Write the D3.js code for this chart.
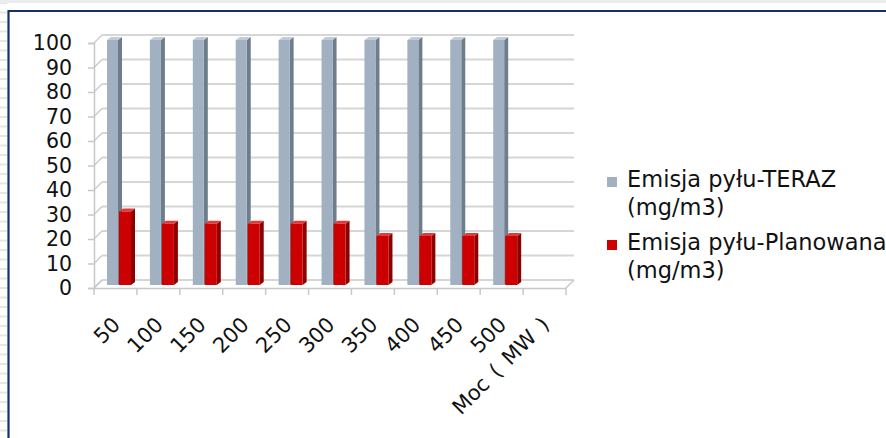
<!DOCTYPE html>
<html>
<head>
<meta charset="utf-8">
<script src="https://d3js.org/d3.v7.min.js"></script>
<style>
  body { margin: 0; background: #fff; }
  text { font-family: "DejaVu Sans", Verdana, sans-serif; fill: #111; }
</style>
</head>
<body>
<div id="chart"></div>
<script>
// chart data
const categories = ["50", "100", "150", "200", "250", "300", "350", "400", "450", "500", "Moc ( MW )"]
const teraz = [100, 100, 100, 100, 100, 100, 100, 100, 100, 100, null]
const planowana = [30, 25, 25, 25, 25, 25, 20, 20, 20, 20, null]
const yTicks = [0, 10, 20, 30, 40, 50, 60, 70, 80, 90, 100]
const seriesNames = [["Emisja pyłu-TERAZ", "(mg/m3)"], ["Emisja pyłu-Planowana", "(mg/m3)"]]

const width = 886
const height = 438
const depth = 8   // back wall offset

const svg = d3.select("#chart").append("svg")
    .attr("width", width)
    .attr("height", height)

// page decoration: striped margin + navy frame
const stripes = svg.append("g")
for (let y = 2; y < height; y += 9.5) {
    stripes.append("rect").attr("x", 0).attr("y", y).attr("width", 7).attr("height", 2).attr("fill", "#e6e6e6")
}
svg.append("rect").attr("x", 0).attr("y", 0).attr("width", width).attr("height", 3).attr("fill", "#ececec")
svg.append("path")
    .attr("d", "M8.5," + height + " V11 H" + width)
    .attr("fill", "none")
    .attr("stroke", "#13306b")
    .attr("stroke-width", 2.2)

const x = d3.scaleBand()
    .domain(categories)
    .range([94, 566])

const y = d3.scaleLinear()
    .domain([0, 100])
    .range([288, 43])

// back wall gridlines
svg.append("g")
    .selectAll("line")
    .data(yTicks)
    .enter()
    .append("line")
    .attr("x1", 94 + depth)
    .attr("x2", 566 + depth)
    .attr("y1", d => y(d) - depth)
    .attr("y2", d => y(d) - depth)
    .attr("stroke", "#d6d6d6")
    .attr("stroke-width", 2)

// left wall diagonals
svg.append("g")
    .selectAll("line")
    .data(yTicks)
    .enter()
    .append("line")
    .attr("x1", 94)
    .attr("x2", 94 + depth)
    .attr("y1", d => y(d))
    .attr("y2", d => y(d) - depth)
    .attr("stroke", "#c8c8c8")
    .attr("stroke-width", 1.2)

// floor
svg.append("path")
    .attr("d", "M94," + y(0) + " L" + (94 + depth) + "," + (y(0) - depth) +
        " M566," + y(0) + " L" + (566 + depth) + "," + (y(0) - depth))
    .attr("stroke", "#c8c8c8")
    .attr("stroke-width", 1.5)

// y axis
const yAxis = d3.axisLeft(y).tickValues(yTicks).tickSize(6).tickPadding(16)
const gy = svg.append("g")
    .attr("transform", "translate(94,0)")
    .call(yAxis)
gy.select(".domain").attr("stroke", "#c8c8c8").attr("stroke-width", 1.5)
gy.selectAll(".tick line").attr("stroke", "#c8c8c8").attr("stroke-width", 1.5)
gy.selectAll("text").style("font-size", "20.5px").attr("fill", "#111")

// bars
const lift = 3
const side = 4
const yb = v => y(v) - lift

const drawBar = (g, x0, w, v, colors) => {
    const top = yb(v)
    const base = yb(0)
    g.append("path")
        .attr("d", `M${x0 + w},${top} L${x0 + w + side},${top - lift} L${x0 + w + side},${base - lift} L${x0 + w},${base} Z`)
        .attr("fill", colors[1])
    g.append("path")
        .attr("d", `M${x0},${top} L${x0 + side},${top - lift} L${x0 + w + side},${top - lift} L${x0 + w},${top} Z`)
        .attr("fill", colors[2])
    g.append("rect")
        .attr("x", x0)
        .attr("y", top)
        .attr("width", w)
        .attr("height", base - top)
        .attr("fill", colors[0])
}

const bars = svg.append("g")
categories.forEach((c, i) => {
    if (teraz[i] != null) {
        drawBar(bars, x(c) + 13, 11, teraz[i], ["#a1b1c2", "#6e7d8c", "#c0ccd8"])
    }
    if (planowana[i] != null) {
        drawBar(bars, x(c) + 25, 12, planowana[i], ["#cc0000", "#8e0000", "#e23a3a"])
    }
})

// front floor line + category axis
const xAxis = d3.axisBottom(x).tickSize(0).tickFormat("")
const gx = svg.append("g")
    .attr("transform", "translate(0," + y(0) + ")")
    .call(xAxis)
gx.select(".domain").attr("stroke", "#c8c8c8").attr("stroke-width", 1.5)

svg.append("g")
    .selectAll("line")
    .data(categories.concat(["end"]))
    .enter()
    .append("line")
    .attr("x1", (d, i) => i < categories.length ? x(d) : x(categories[categories.length - 1]) + x.bandwidth())
    .attr("x2", (d, i) => i < categories.length ? x(d) : x(categories[categories.length - 1]) + x.bandwidth())
    .attr("y1", y(0))
    .attr("y2", y(0) + 7)
    .attr("stroke", "#c8c8c8")
    .attr("stroke-width", 1.5)

svg.append("g")
    .selectAll("text")
    .data(categories)
    .enter()
    .append("text")
    .attr("transform", d => "translate(" + (x(d) + x.bandwidth() / 2 + 6) + ",326) rotate(-45)")
    .attr("text-anchor", "end")
    .style("font-size", "21px")
    .style("word-spacing", "3px")
    .text(d => d)

// legend
const legendColors = ["#a1b1c2", "#cc0000"]
const legend = svg.append("g").attr("id", "legend")
seriesNames.forEach((lines, i) => {
    const base = 187 + i * 63
    legend.append("rect")
        .attr("x", 607)
        .attr("y", base - 10)
        .attr("width", 10)
        .attr("height", 10)
        .attr("fill", legendColors[i])
    lines.forEach((t, j) => {
        legend.append("text")
            .attr("x", 627)
            .attr("y", base + j * 28)
            .style("font-size", "22.5px")
            .text(t)
    })
})
</script>
</body>
</html>
